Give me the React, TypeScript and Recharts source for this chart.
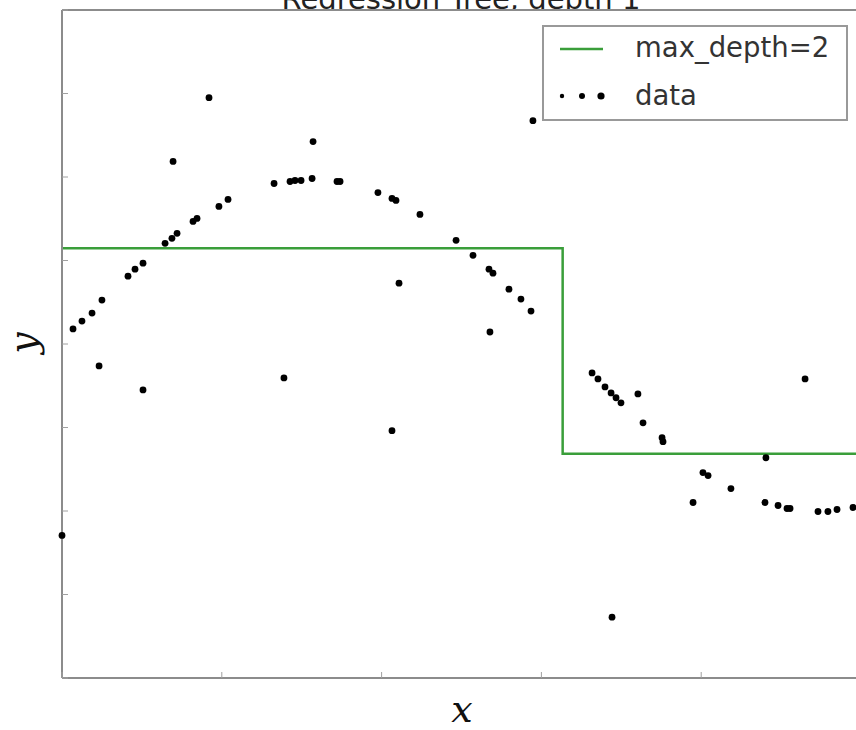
import React from 'react';
import { ComposedChart, Scatter, Line, XAxis, YAxis, Legend } from 'recharts';

// points that follow the sine curve
const curveX = [
  0.069, 0.125, 0.188, 0.25, 0.413, 0.457, 0.507, 0.645, 0.688, 0.72, 0.82, 0.845, 0.982,
  1.039, 1.327, 1.427, 1.458, 1.496, 1.565, 1.721, 1.74, 1.977, 2.065, 2.09, 2.24, 2.466,
  2.572, 2.672, 2.697, 2.797, 2.872, 2.935, 3.317, 3.354, 3.398, 3.436, 3.467, 3.498, 3.636,
  3.755, 3.761, 4.011, 4.043, 4.186, 4.399, 4.481, 4.537, 4.556, 4.731, 4.793, 4.85, 4.95,
];
const curveY = [
  0.09, 0.137, 0.185, 0.263, 0.406, 0.448, 0.484, 0.603, 0.633, 0.663, 0.734, 0.752, 0.824,
  0.866, 0.961, 0.973, 0.979, 0.979, 0.991, 0.973, 0.973, 0.907, 0.872, 0.86, 0.776, 0.621,
  0.531, 0.448, 0.424, 0.328, 0.269, 0.197, -0.173, -0.209, -0.257, -0.293, -0.322, -0.352,
  -0.472, -0.561, -0.585, -0.77, -0.788, -0.866, -0.949, -0.967, -0.985, -0.985, -1.003,
  -1.003, -0.991, -0.979,
];

// every fifth sample got noise added
const noisyX = [
  0.0, 0.232, 0.507, 0.695, 0.92, 1.389, 1.571, 2.109, 2.065, 2.678, 2.947, 3.442, 3.604,
  3.949, 4.405, 4.65,
];
const noisyY = [
  -1.146, -0.131, -0.275, 1.093, 1.475, -0.203, 1.212, 0.364, -0.519, 0.072, 1.337, -1.636,
  -0.299, -0.949, -0.681, -0.209,
];

// depth-1 tree prediction
const stepX = [0, 3.133, 5];
const stepY = [0.573, -0.657, -0.657];

const xTicks = [0, 1, 2, 3, 4, 5];
const yTicks = [-2, -1.5, -1, -0.5, 0, 0.5, 1, 1.5, 2];

const points = [
  ...curveX.map((x, i) => ({ x, y: curveY[i] })),
  ...noisyX.map((x, i) => ({ x, y: noisyY[i] })),
];
const stepData = stepX.map((x, i) => ({ x, y: stepY[i] }));

const GREEN = '#3a9e3a';
const AXIS = { stroke: '#8c8c8c', strokeWidth: 2 };
const TICK = '#a0a0a0';

const BottomTick = (p: any) => <line x1={p.x} x2={p.x} y1={p.y} y2={p.y - 6} stroke={TICK} />;
const TopTick = (p: any) => <line x1={p.x} x2={p.x} y1={p.y} y2={p.y + 6} stroke={TICK} />;
const LeftTick = (p: any) => <line x1={p.x} x2={p.x + 6} y1={p.y} y2={p.y} stroke={TICK} />;
const RightTick = (p: any) => <line x1={p.x} x2={p.x - 6} y1={p.y} y2={p.y} stroke={TICK} />;

const Dot = (p: any) => <circle cx={p.cx} cy={p.cy} r={3.4} fill="#000" />;

function LegendBox() {
  const font = { fontFamily: 'DejaVu Sans', fontSize: 27.5, fill: '#333' };
  return (
    <svg width={306} height={96} style={{ display: 'block' }}>
      <rect x={1} y={1} width={304} height={94} fill="#fff" stroke="#999" strokeWidth={2} />
      <line x1={18} x2={61} y1={24} y2={24} stroke={GREEN} strokeWidth={2.5} />
      <text x={93} y={32} {...font}>max_depth=2</text>
      <circle cx={20} cy={71} r={2.2} fill="#000" />
      <circle cx={40} cy={71} r={3} fill="#000" />
      <circle cx={59} cy={71} r={3.6} fill="#000" />
      <text x={93} y={80} {...font}>data</text>
    </svg>
  );
}

export default function App() {
  return (
    <div
      style={{
        position: 'absolute',
        left: 0,
        top: 0,
        width: 856,
        height: 730,
        overflow: 'hidden',
        background: '#fff',
      }}
    >
      <ComposedChart
        width={900}
        height={730}
        margin={{ top: 9, right: 38, bottom: 51, left: 61 }}
      >
        <XAxis
          type="number"
          dataKey="x"
          domain={[0, 5]}
          ticks={xTicks}
          height={1}
          tickSize={0}
          tickMargin={0}
          tickLine={false}
          axisLine={AXIS}
          tick={BottomTick}
        />
        <XAxis
          xAxisId="top"
          orientation="top"
          type="number"
          dataKey="x"
          domain={[0, 5]}
          ticks={xTicks}
          height={1}
          tickSize={0}
          tickMargin={0}
          tickLine={false}
          axisLine={AXIS}
          tick={TopTick}
        />
        <YAxis
          type="number"
          dataKey="y"
          domain={[-2, 2]}
          ticks={yTicks}
          width={1}
          tickSize={0}
          tickMargin={0}
          tickLine={false}
          axisLine={AXIS}
          tick={LeftTick}
        />
        <YAxis
          yAxisId="right"
          orientation="right"
          type="number"
          dataKey="y"
          domain={[-2, 2]}
          ticks={yTicks}
          width={1}
          tickSize={0}
          tickMargin={0}
          tickLine={false}
          axisLine={AXIS}
          tick={RightTick}
        />
        <Line
          data={stepData}
          dataKey="y"
          type="stepAfter"
          stroke={GREEN}
          strokeWidth={2.5}
          dot={false}
          activeDot={false}
          isAnimationActive={false}
        />
        <Scatter data={points} dataKey="y" shape={Dot} isAnimationActive={false} />
        <Legend
          layout="horizontal"
          verticalAlign="middle"
          align="center"
          wrapperStyle={{ left: 542, top: 25, width: 306, height: 96 }}
          content={() => <LegendBox />}
        />
      </ComposedChart>

      {/* title, cut off by the top edge as in the original */}
      <svg
        width={856}
        height={9}
        style={{ position: 'absolute', left: 0, top: 0, overflow: 'hidden' }}
      >
        <text x={461} y={9} textAnchor="middle" fontFamily="DejaVu Sans" fontSize={29} fill="#222">
          Regression Tree, depth 1
        </text>
      </svg>

      <svg width={856} height={730} style={{ position: 'absolute', left: 0, top: 0, pointerEvents: 'none' }}>
        <text
          x={462}
          y={722}
          textAnchor="middle"
          fontFamily="DejaVu Serif"
          fontStyle="italic"
          fontSize={38}
          fill="#111"
        >
          x
        </text>
        <text
          transform="translate(36,343) rotate(-90)"
          textAnchor="middle"
          fontFamily="DejaVu Serif"
          fontStyle="italic"
          fontSize={38}
          fill="#111"
        >
          y
        </text>
      </svg>
    </div>
  );
}
